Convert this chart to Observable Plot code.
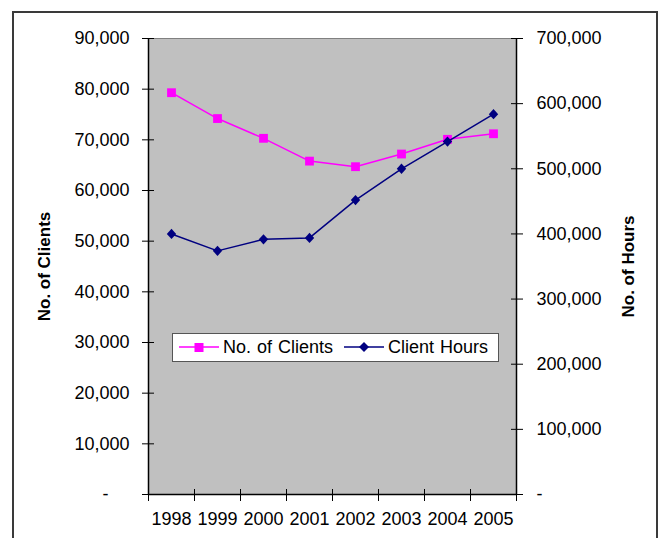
<!DOCTYPE html>
<html>
<head>
<meta charset="utf-8">
<script src="https://cdn.jsdelivr.net/npm/d3@7"></script>
<script src="https://cdn.jsdelivr.net/npm/@observablehq/plot@0.6"></script>
<style>
  html, body { margin: 0; padding: 0; background: #fff; }
  #wrap { position: relative; width: 662px; height: 538px; overflow: hidden; font-family: "Liberation Sans", Arial, sans-serif; }
  #border { position: absolute; left: 12px; top: 11px; width: 646px; height: 600px; border: 2px solid #3a3a3a; box-sizing: border-box; pointer-events: none; }
  #legend { position: absolute; left: 172px; top: 333px; width: 327px; height: 29px; background: #fff; border: 1px solid #555; box-sizing: border-box; font-size: 18px; color: #000; white-space: nowrap; }
  #legend svg, #legend span { position: absolute; display: block; }
  #legend span { top: 3px; line-height: 20px; word-spacing: 1px; }
</style>
</head>
<body>
<div id="wrap"><div id="chart"></div><div id="legend"></div><div id="border"></div></div>
<script>
// ---- data ----
const years = [1998, 1999, 2000, 2001, 2002, 2003, 2004, 2005];
const clients = [79300, 74200, 70300, 65800, 64700, 67200, 70100, 71200];
const hours = [400000, 374000, 391700, 393900, 452000, 500000, 541800, 583800];
const clientTicks = [0, 10000, 20000, 30000, 40000, 50000, 60000, 70000, 80000, 90000];
const hourTicks = [0, 100000, 200000, 300000, 400000, 500000, 600000, 700000];
const seriesNames = ["No. of Clients", "Client Hours"];
const axisTitles = ["No. of Clients", "No. of Hours"];
const colors = ["#ff00ff", "#000080"];

const clientMax = clientTicks[clientTicks.length - 1];
const hourMax = hourTicks[hourTicks.length - 1];
const k = clientMax / hourMax; // map hours onto the client scale

const data = years.map((y, i) => ({year: y, clients: clients[i], hours: hours[i], hoursScaled: hours[i] * k}));
const xDomain = [years[0] - 0.5, years[years.length - 1] + 0.5];
const xBounds = years.map(y => y - 0.5).concat([years[years.length - 1] + 0.5]);

const fmt = d3.format(",");
const squareSym = {draw(ctx, size) { const r = Math.sqrt(size / Math.PI); ctx.moveTo(-r, -r); ctx.lineTo(r, -r); ctx.lineTo(r, r); ctx.lineTo(-r, r); ctx.closePath(); }};
const diamondSym = {draw(ctx, size) { const r = Math.sqrt(size / Math.PI); ctx.moveTo(0, -r * 1.1); ctx.lineTo(r, 0); ctx.lineTo(0, r * 1.1); ctx.lineTo(-r, 0); ctx.closePath(); }};

const chart = Plot.plot({
  width: 662,
  height: 538,
  marginLeft: 148,
  marginRight: 146,
  marginTop: 38,
  marginBottom: 44,
  style: {fontFamily: '"Liberation Sans", Arial, sans-serif', fontSize: "18px", color: "#000", background: "transparent"},
  x: {type: "linear", domain: xDomain},
  y: {type: "linear", domain: [0, clientMax]},
  marks: [
    Plot.frame({fill: "#c0c0c0", stroke: "#808080"}),
    // left axis
    Plot.axisY({anchor: "left", ticks: clientTicks, tickSize: 6, tickPadding: 13, tickFormat: d => d === 0 ? "" : fmt(d), label: null, stroke: "#000"}),
    Plot.axisY({anchor: "left", ticks: clientTicks.slice(0, 1), tickSize: 0, tickPadding: 40, tickFormat: () => "-", label: null}),
    Plot.axisY({anchor: "left", ticks: clientTicks, tickSize: -6, tickFormat: () => "", label: null, stroke: "#000"}),
    // right axis
    Plot.axisY({anchor: "right", ticks: hourTicks.map(h => h * k), tickSize: 6, tickPadding: 14, tickFormat: d => { const v = Math.round(d / k); return v === 0 ? "-" : fmt(v); }, label: null, stroke: "#000", textAnchor: "start"}),
    Plot.axisY({anchor: "right", ticks: hourTicks.map(h => h * k), tickSize: -6, tickFormat: () => "", label: null, stroke: "#000"}),
    // x axis
    Plot.axisX({anchor: "bottom", ticks: xBounds, tickSize: 7, tickFormat: () => "", label: null, stroke: "#000"}),
    Plot.axisX({anchor: "bottom", ticks: xBounds, tickSize: -5, tickFormat: () => "", label: null, stroke: "#000"}),
    Plot.axisX({anchor: "bottom", ticks: years, tickSize: 0, tickPadding: 18, tickFormat: d => String(d), label: null}),
    // axis lines
    Plot.ruleX(xDomain, {stroke: "#000", strokeWidth: 1.5}),
    Plot.ruleY([0], {stroke: "#000", strokeWidth: 1.5}),
    // axis titles
    Plot.text([axisTitles[0]], {frameAnchor: "left", textAnchor: "middle", dx: -104, rotate: -90, fontWeight: "bold", fontSize: 17, text: d => d}),
    Plot.text([axisTitles[1]], {frameAnchor: "right", textAnchor: "middle", dx: 112, rotate: -90, fontWeight: "bold", fontSize: 17, text: d => d}),
    // series
    Plot.line(data, {x: "year", y: "clients", stroke: colors[0], strokeWidth: 1.5}),
    Plot.dot(data, {x: "year", y: "clients", symbol: squareSym, r: 4.4, fill: colors[0], stroke: "none"}),
    Plot.line(data, {x: "year", y: "hoursScaled", stroke: colors[1], strokeWidth: 1.5}),
    Plot.dot(data, {x: "year", y: "hoursScaled", symbol: diamondSym, r: 4.7, fill: colors[1], stroke: "none"})
  ]
});
document.getElementById("chart").appendChild(chart);

// legend (inside plot area, as in reference)
const legend = document.getElementById("legend");
const markerSvg = [
  '<svg width="40" height="14" style="left:6px;top:6px"><line x1="0" y1="7" x2="40" y2="7" stroke="#ff00ff" stroke-width="1.5"/><rect x="15.5" y="3" width="9" height="9" fill="#ff00ff"/></svg>',
  '<svg width="40" height="14" style="left:171px;top:6px"><line x1="0" y1="7" x2="40" y2="7" stroke="#000080" stroke-width="1.5"/><path d="M20,2 L25,7 L20,12 L15,7 Z" fill="#000080"/></svg>'
];
const textLeft = [50, 215];
seriesNames.forEach((name, i) => {
  legend.insertAdjacentHTML("beforeend", markerSvg[i] + '<span style="left:' + textLeft[i] + 'px">' + name + '</span>');
});
</script>
</body>
</html>
